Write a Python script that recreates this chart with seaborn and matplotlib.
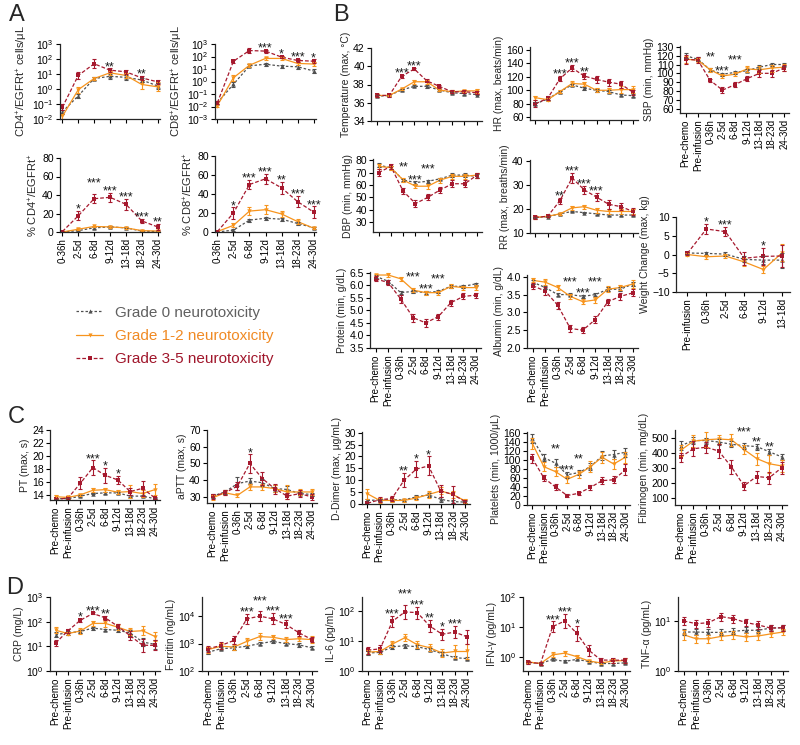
import numpy as np
import pandas as pd
import matplotlib
matplotlib.use('Agg')
import matplotlib.pyplot as plt
from matplotlib.lines import Line2D
from matplotlib.ticker import LogLocator, NullLocator, LogFormatterMathtext, FormatStrFormatter
import seaborn as sns

times = ['Pre-chemo', 'Pre-infusion', '0-36h', '2-5d', '6-8d', '9-12d', '13-18d', '18-23d', '24-30d']
times_car = times[2:]
times_wt = ['Pre-infusion', '0-36h', '2-5d', '6-8d', '9-12d', '13-18d']
groups = ['Grade 0 neurotoxicity', 'Grade 1-2 neurotoxicity', 'Grade 3-5 neurotoxicity']

# stars: (time point, label[, raised row])

# A - CAR T cells (counts: log axes, errors as fold)
cd4_g0 = [0.03, 0.35, 5, 7, 6, 4, 1.6]
cd4_g12 = [0.015, 0.9, 5, 12, 8, 2, 1.4]
cd4_g35 = [0.06, 8, 48, 18, 14, 5.5, 3]
cd4_e0 = [1.4, 1.3, 1.3, 1.5, 1.5, 1.4, 1.5]
cd4_e12 = [1.5, 1.6, 1.3, 1.4, 1.5, 2.0, 2.0]
cd4_e35 = [1.6, 1.6, 2.0, 1.3, 1.3, 1.3, 1.4]
cd4_stars = [('9-12d', '**'), ('18-23d', '**')]

cd8_g0 = [0.02, 0.6, 18, 24, 17, 15, 7]
cd8_g12 = [0.012, 2, 20, 70, 70, 28, 25]
cd8_g35 = [0.02, 42, 300, 270, 90, 48, 42]
cd8_e0 = [1.3, 1.6, 1.3, 1.3, 1.3, 1.4, 1.5]
cd8_e12 = [1.3, 1.8, 1.3, 1.4, 1.4, 1.4, 1.4]
cd8_e35 = [1.3, 1.3, 1.6, 1.3, 1.3, 1.3, 1.4]
cd8_stars = [('9-12d', '***'), ('13-18d', '*'), ('18-23d', '***'), ('24-30d', '*')]

pcd4_g0 = [0, 1.5, 4.5, 5.5, 4.5, 1, 0.5]
pcd4_g12 = [0, 3, 6, 5.5, 4.5, 1.5, 1]
pcd4_g35 = [0.5, 17.5, 36, 37.5, 30, 12, 5.5]
pcd4_e0 = [0.2, 0.5, 0.8, 0.8, 0.5, 0.3, 0.3]
pcd4_e12 = [0.3, 1, 1, 1, 0.8, 0.5, 0.5]
pcd4_e35 = [0.5, 5, 5, 5, 6, 2.5, 3]
pcd4_stars = [('2-5d', '*'), ('6-8d', '***', 1), ('9-12d', '***'), ('13-18d', '***'), ('18-23d', '***'), ('24-30d', '**')]

pcd8_g0 = [0, 2, 12.5, 14.5, 13.5, 9, 4.5]
pcd8_g12 = [0.5, 7, 22, 23.5, 19, 11, 4]
pcd8_g35 = [0.5, 20, 50, 56, 46.5, 32, 21]
pcd8_e0 = [0.3, 1, 1.5, 1.5, 1.5, 1.5, 1]
pcd8_e12 = [0.5, 2, 4, 5, 3, 3, 1]
pcd8_e35 = [0.5, 6, 5, 5, 6, 6, 6]
pcd8_stars = [('2-5d', '*'), ('6-8d', '***'), ('9-12d', '***'), ('13-18d', '**'), ('18-23d', '***'), ('24-30d', '***')]

# B - vital signs and labs
temp_g0 = [36.7, 36.8, 37.4, 37.8, 37.8, 37.4, 37.1, 37.0, 36.9]
temp_g12 = [36.8, 36.8, 37.5, 38.3, 38.3, 37.4, 37.2, 37.3, 37.3]
temp_g35 = [36.8, 36.8, 38.9, 39.7, 38.4, 37.8, 37.2, 37.2, 37.1]
temp_e0 = [0.1, 0.1, 0.1, 0.1, 0.15, 0.1, 0.1, 0.1, 0.1]
temp_e12 = [0.15, 0.1, 0.1, 0.2, 0.2, 0.15, 0.15, 0.15, 0.2]
temp_e35 = [0.15, 0.15, 0.15, 0.1, 0.15, 0.2, 0.15, 0.15, 0.15]
temp_stars = [('0-36h', '***'), ('2-5d', '***')]

hr_g0 = [80, 87, 98, 108, 103, 100, 98, 93, 92]
hr_g12 = [89, 86, 98, 110, 109, 100, 100, 101, 101]
hr_g35 = [80, 88, 117, 133, 121, 116, 112, 109, 97]
hr_e0 = [2, 2, 1.5, 2, 2, 2, 2, 2, 2]
hr_e12 = [3, 2, 2, 3, 3, 3, 4, 5, 5]
hr_e35 = [5, 3, 4, 4, 4, 5, 5, 5, 4]
hr_stars = [('0-36h', '***'), ('2-5d', '***'), ('6-8d', '**')]

sbp_g0 = [120, 116, 104, 99, 101, 103, 107, 110, 110]
sbp_g12 = [116, 115, 104, 97, 99, 105, 104, 106, 107]
sbp_g35 = [116, 115, 92, 81, 87, 94, 100, 100, 106]
sbp_e0 = [3, 2, 1.5, 1.5, 1.5, 1.5, 2, 2, 2]
sbp_e12 = [4, 2, 2, 2, 2, 3, 4, 4, 4]
sbp_e35 = [5, 3, 2, 3, 3, 3, 4, 4, 3]
sbp_stars = [('0-36h', '**', 1), ('2-5d', '***'), ('6-8d', '***', 1)]

dbp_g0 = [76, 74, 64, 62, 63, 65, 68, 68, 67]
dbp_g12 = [75, 74, 64, 59, 59, 64, 67, 67, 68]
dbp_g35 = [70, 75, 55, 45, 50, 56, 61, 61, 68]
dbp_e0 = [1.5, 1, 1, 1, 1, 1, 1.5, 1.5, 1.5]
dbp_e12 = [2, 1.5, 1.5, 1.5, 2, 2, 2, 2, 2]
dbp_e35 = [3, 2, 2.5, 2.5, 2.5, 2.5, 3, 3, 2]
dbp_stars = [('0-36h', '**', 1), ('2-5d', '***'), ('6-8d', '***', 1)]

rr_g0 = [16.5, 16.8, 18, 19, 18.5, 18, 17.5, 17.5, 17.5]
rr_g12 = [16.5, 17, 18, 20.5, 21, 19.5, 19, 19, 19]
rr_g35 = [16.5, 17, 23.5, 33, 28, 25, 22, 21, 19]
rr_e0 = [0.3, 0.3, 0.3, 0.3, 0.3, 0.3, 0.3, 0.3, 0.3]
rr_e12 = [0.5, 0.5, 0.5, 0.8, 0.8, 1, 1.2, 1.2, 1.2]
rr_e35 = [0.5, 0.5, 1.2, 2, 1.8, 1.8, 1.8, 1.5, 1.5]
rr_stars = [('0-36h', '**'), ('2-5d', '***'), ('6-8d', '***'), ('9-12d', '***')]

wt_g0 = [0.4, 0.3, 0.1, -1.3, -1.5, -1.5]
wt_g12 = [0, -0.6, -0.4, -2, -4, 0.5]
wt_g35 = [0.3, 6.8, 6.1, -1, -0.5, -0.4]
wt_e0 = [0.3, 0.4, 0.5, 0.8, 1, 2]
wt_e12 = [0.4, 0.6, 0.6, 1, 1, 2.3]
wt_e35 = [0.5, 1.3, 1.2, 1.8, 2.2, 3]
wt_stars = [('0-36h', '*'), ('2-5d', '***'), ('9-12d', '*')]

prot_g0 = [6.35, 6.15, 5.7, 5.75, 5.7, 5.75, 5.95, 5.95, 6.05]
prot_g12 = [6.4, 6.4, 6.25, 5.8, 5.7, 5.7, 5.95, 5.9, 5.9]
prot_g35 = [6.25, 6.1, 5.45, 4.7, 4.5, 4.75, 5.3, 5.55, 5.6]
prot_e0 = [0.05, 0.05, 0.05, 0.05, 0.05, 0.05, 0.05, 0.05, 0.05]
prot_e12 = [0.05, 0.07, 0.08, 0.08, 0.08, 0.08, 0.08, 0.08, 0.1]
prot_e35 = [0.1, 0.1, 0.15, 0.15, 0.15, 0.12, 0.12, 0.12, 0.1]
prot_stars = [('2-5d', '***', 1), ('6-8d', '***'), ('9-12d', '***', 1)]

alb_g0 = [3.85, 3.7, 3.5, 3.5, 3.45, 3.5, 3.65, 3.65, 3.8]
alb_g12 = [3.9, 3.85, 3.7, 3.45, 3.3, 3.35, 3.65, 3.7, 3.8]
alb_g35 = [3.75, 3.6, 3.2, 2.55, 2.5, 2.8, 3.3, 3.45, 3.55]
alb_e0 = [0.05, 0.05, 0.05, 0.04, 0.05, 0.05, 0.05, 0.05, 0.05]
alb_e12 = [0.06, 0.08, 0.08, 0.07, 0.07, 0.08, 0.08, 0.08, 0.12]
alb_e35 = [0.08, 0.1, 0.1, 0.1, 0.08, 0.1, 0.08, 0.1, 0.1]
alb_stars = [('2-5d', '***', 1), ('6-8d', '***'), ('9-12d', '***', 1)]

# C - coagulation
pt_g0 = [13.4, 13.4, 13.8, 14.2, 14.3, 14.3, 13.8, 13.8, 13.4]
pt_g12 = [13.7, 13.6, 14.0, 14.7, 14.8, 14.4, 14.5, 14.2, 14.8]
pt_g35 = [13.3, 13.5, 15.8, 18.2, 17.0, 16.3, 14.5, 15.0, 13.5]
pt_e0 = [0.1, 0.1, 0.1, 0.15, 0.15, 0.2, 0.15, 0.15, 0.1]
pt_e12 = [0.2, 0.2, 0.2, 0.3, 0.3, 0.3, 1.0, 0.6, 0.9]
pt_e35 = [0.2, 0.2, 0.9, 1.1, 1.1, 0.6, 0.5, 1.2, 0.2]
pt_stars = [('2-5d', '***'), ('6-8d', '*'), ('9-12d', '*')]

aptt_g0 = [30.5, 33, 38, 39.5, 38.5, 35, 34.5, 32, 31.5]
aptt_g12 = [29.5, 32.5, 31, 36, 36, 35, 33, 33, 33]
aptt_g35 = [30.5, 32.5, 36.5, 50, 41, 35, 30.5, 32, 30]
aptt_e0 = [1, 1, 4, 2, 2, 2, 2, 1, 1]
aptt_e12 = [1.5, 1.5, 1, 2, 2, 2, 4, 2, 2]
aptt_e35 = [1.5, 1.5, 2.5, 5.5, 4, 3, 2, 2, 2]
aptt_stars = [('2-5d', '*')]

ddim_g0 = [1.5, 1.7, 1.8, 1.7, 3, 3.8, 2, 1, 0.8]
ddim_g12 = [4.3, 1.5, 1.5, 1.5, 2.5, 4, 5.5, 4, 1.3]
ddim_g35 = [0.3, 1.8, 2.3, 10, 14.7, 16, 5.5, 4, 1]
ddim_e0 = [0.5, 0.5, 0.5, 0.5, 0.8, 1, 1, 0.5, 0.5]
ddim_e12 = [2, 1, 0.8, 0.8, 1, 1.5, 1.5, 1.5, 0.8]
ddim_e35 = [0.5, 1, 1, 3, 3.5, 4, 2.5, 3.5, 0.8]
ddim_stars = [('2-5d', '**'), ('6-8d', '*'), ('9-12d', '*')]

plt_g0 = [148, 105, 93, 67, 72, 85, 109, 112, 117]
plt_g12 = [137, 85, 74, 57, 68, 85, 106, 91, 106]
plt_g35 = [104, 60, 40, 21, 26, 39, 54, 56, 78]
plt_e0 = [10, 8, 8, 6, 6, 8, 10, 10, 10]
plt_e12 = [12, 10, 10, 8, 8, 12, 12, 12, 12]
plt_e35 = [10, 7, 6, 3, 3, 6, 8, 8, 12]
plt_stars = [('0-36h', '**', 1), ('2-5d', '***'), ('6-8d', '**', 1)]

fib_g0 = [445, 480, 480, 470, 455, 445, 440, 405, 370]
fib_g12 = [415, 475, 485, 490, 485, 420, 360, 325, 310]
fib_g35 = [370, 425, 435, 410, 305, 178, 240, 232, 300]
fib_e0 = [30, 25, 20, 20, 20, 20, 20, 20, 20]
fib_e12 = [35, 40, 50, 30, 40, 30, 40, 60, 40]
fib_e35 = [30, 50, 35, 45, 45, 25, 40, 40, 40]
fib_stars = [('9-12d', '***', 1), ('13-18d', '**'), ('18-23d', '**')]

# D - cytokines (log axes, errors as fold)
crp_g0 = [30, 35, 40, 55, 48, 45, 35, 15, 12]
crp_g12 = [45, 33, 42, 85, 85, 60, 40, 43, 25]
crp_g35 = [13.5, 43, 115, 215, 143, 65, 27, 11, 11]
crp_e0 = [1.3, 1.2, 1.2, 1.15, 1.1, 1.15, 1.3, 1.4, 1.5]
crp_e12 = [1.3, 1.2, 1.3, 1.3, 1.4, 1.3, 1.4, 1.5, 1.5]
crp_e35 = [1.3, 1.2, 1.15, 1.1, 1.2, 1.2, 1.5, 1.8, 1.6]
crp_stars = [('0-36h', '*'), ('2-5d', '***'), ('6-8d', '**')]

fer_g0 = [480, 650, 700, 800, 1000, 1200, 1000, 900, 700]
fer_g12 = [600, 800, 750, 1200, 1800, 1700, 1400, 1500, 1400]
fer_g35 = [650, 850, 1300, 8000, 10000, 8000, 5000, 2500, 1400]
fer_e0 = [1.15, 1.15, 1.2, 1.15, 1.15, 1.15, 1.15, 1.15, 1.15]
fer_e12 = [1.3, 1.3, 1.3, 1.3, 1.3, 1.2, 1.2, 1.2, 1.3]
fer_e35 = [1.3, 1.3, 1.4, 1.5, 1.5, 1.6, 1.4, 1.3, 1.2]
fer_stars = [('2-5d', '***'), ('6-8d', '***', 1), ('9-12d', '***'), ('13-18d', '***')]

il6_g0 = [4, 4.2, 6.5, 7, 6.5, 5.2, 3.8, 2.8, 2.6]
il6_g12 = [4.3, 4.5, 8, 13, 7.6, 6, 4, 4.5, 4.5]
il6_g35 = [5, 5.5, 46, 95, 90, 32, 17, 20, 14]
il6_e0 = [1.15, 1.15, 1.15, 1.15, 1.15, 1.15, 1.15, 1.15, 1.15]
il6_e12 = [1.2, 1.2, 1.25, 1.3, 1.3, 1.3, 1.4, 1.6, 1.8]
il6_e35 = [1.3, 1.3, 1.5, 1.7, 1.6, 1.6, 1.5, 1.6, 1.7]
il6_stars = [('0-36h', '***'), ('2-5d', '***', 1), ('6-8d', '***'), ('9-12d', '**'), ('13-18d', '*'), ('18-23d', '***')]

ifn_g0 = [0.68, 0.62, 0.85, 0.73, 0.85, 0.72, 0.62, 0.62, 0.65]
ifn_g12 = [0.7, 0.62, 1.2, 1.37, 1.05, 0.75, 0.65, 0.75, 0.78]
ifn_g35 = [0.68, 0.62, 10.4, 16, 6.2, 1.7, 0.81, 0.8, 0.8]
ifn_e0 = [1.08, 1.08, 1.08, 1.08, 1.08, 1.08, 1.08, 1.08, 1.08]
ifn_e12 = [1.1, 1.1, 1.2, 1.2, 1.15, 1.1, 1.1, 1.2, 1.2]
ifn_e35 = [1.1, 1.1, 1.5, 1.7, 1.8, 1.5, 1.2, 1.2, 1.2]
ifn_stars = [('0-36h', '***'), ('2-5d', '***'), ('6-8d', '*')]

tnf_g0 = [6.0, 6.0, 5.9, 5.9, 6.2, 6.5, 6.5, 7.2, 7.3]
tnf_g12 = [5.3, 4.4, 4.4, 4.9, 5.2, 4.8, 5.0, 5.5, 6.0]
tnf_g35 = [10, 8.8, 9.2, 12.2, 11.1, 9.3, 8.3, 7.2, 7.3]
tnf_e0 = [1.15, 1.15, 1.15, 1.15, 1.15, 1.15, 1.15, 1.15, 1.15]
tnf_e12 = [1.25, 1.2, 1.2, 1.2, 1.2, 1.2, 1.2, 1.15, 1.15]
tnf_e35 = [1.2, 1.2, 1.2, 1.2, 1.2, 1.2, 1.2, 1.15, 1.15]
tnf_stars = []

colors = {groups[0]: '#505050', groups[1]: '#F7941D', groups[2]: '#A6192E'}
text_colors = ['#606060', '#F08A24', '#A0162B']
dashes = {groups[0]: (2, 1.6), groups[1]: '', groups[2]: (3, 1.6)}
markers = {groups[0]: '^', groups[1]: 'v', groups[2]: 's'}

sns.set_style('ticks')
plt.rcParams['font.family'] = ['Liberation Sans', 'DejaVu Sans']
plt.rcParams['mathtext.fontset'] = 'custom'
plt.rcParams['mathtext.rm'] = 'Liberation Sans'
plt.rcParams['mathtext.it'] = 'Liberation Sans:italic'
plt.rcParams['mathtext.bf'] = 'Liberation Sans:bold'
plt.rcParams['axes.linewidth'] = 0.9

W, H = 800, 745
fig = plt.figure(figsize=(W / 100, H / 100), dpi=100)


def new_ax(box):
    l, t, r, b = box
    return fig.add_axes([l / W, 1 - b / H, (r - l) / W, (b - t) / H])


def draw(box, cats, means, errs, stars, ylabel, ylim, log=False, yticks=None,
         fmt=None, xlabels=True, xlim=None, lab_size=7.5):
    ax = new_ax(box)
    rows = []
    for grp, vals in zip(groups, means):
        for i, (c, v) in enumerate(zip(cats, vals)):
            rows.append({'time': c, 'pos': i, 'value': v, 'group': grp})
    df = pd.DataFrame(rows)
    sns.lineplot(data=df, x='pos', y='value', hue='group', style='group',
                 hue_order=groups, style_order=groups, palette=colors,
                 dashes=dashes, markers=markers, markersize=3.2,
                 markeredgewidth=0, linewidth=0.9, errorbar=None,
                 sort=False, legend=False, ax=ax)
    tops = []
    for grp, vals, err in zip(groups, means, errs):
        v = np.array(vals, float)
        e = np.array(err, float)
        if log:
            yerr = [v - v / e, v * e - v]
            tops.append(v * e)
        else:
            yerr = e
            tops.append(v + e)
        ax.errorbar(np.arange(len(cats)), v, yerr=yerr, fmt='none',
                    ecolor=colors[grp], elinewidth=0.8, capsize=1.5,
                    capthick=0.8)
    top = np.max(tops, axis=0)
    for st in stars:
        i = cats.index(st[0])
        lift = 6.5 if len(st) > 2 else 0
        ax.annotate(st[1], (i, top[i]), xytext=(0, -1.2 + lift), textcoords='offset points',
                    ha='center', va='baseline', fontsize=9, color='#1a1a1a',
                    annotation_clip=False)
    if log:
        ax.set_yscale('log')
        ax.yaxis.set_major_locator(LogLocator(base=10, numticks=12))
        ax.yaxis.set_minor_locator(NullLocator())
        ax.yaxis.set_major_formatter(LogFormatterMathtext())
    elif yticks is not None:
        ax.set_yticks(yticks)
        if fmt:
            ax.yaxis.set_major_formatter(FormatStrFormatter(fmt))
    ax.set_ylim(*ylim)
    n = len(cats)
    ax.set_xlim(*(xlim if xlim else (-0.45, n - 0.6)))
    ax.set_xticks(range(n))
    if xlabels:
        ax.set_xticklabels(cats, rotation=90)
    else:
        ax.set_xticklabels([])
    ax.set_xlabel('')
    ax.set_ylabel(ylabel, fontsize=lab_size, labelpad=1.5)
    ax.tick_params(direction='out', length=3, width=0.8, labelsize=7, pad=1.5,
                   colors='black')
    ax.tick_params(axis='y', labelsize=7.5)
    sns.despine(ax=ax)
    return ax


# Panel A
draw((60, 44, 160, 119), times_car, (cd4_g0, cd4_g12, cd4_g35), (cd4_e0, cd4_e12, cd4_e35),
     cd4_stars, 'CD4$^{+}$/EGFRt$^{+}$ cells/\u03bcL', (0.01, 1000), log=True,
     xlabels=False, xlim=(-0.15, 6.15), lab_size=8)
draw((215, 44, 316, 119), times_car, (cd8_g0, cd8_g12, cd8_g35), (cd8_e0, cd8_e12, cd8_e35),
     cd8_stars, 'CD8$^{+}$/EGFRt$^{+}$ cells/\u03bcL', (0.001, 1000), log=True,
     xlabels=False, xlim=(-0.15, 6.15), lab_size=8)
draw((60, 158, 160, 232), times_car, (pcd4_g0, pcd4_g12, pcd4_g35), (pcd4_e0, pcd4_e12, pcd4_e35),
     pcd4_stars, '% CD4$^{+}$/EGFRt$^{+}$', (0, 80), yticks=range(0, 81, 20),
     xlim=(-0.15, 6.15), lab_size=8)
draw((215, 156, 316, 232), times_car, (pcd8_g0, pcd8_g12, pcd8_g35), (pcd8_e0, pcd8_e12, pcd8_e35),
     pcd8_stars, '% CD8$^{+}$/EGFRt$^{+}$', (0, 80), yticks=range(0, 81, 20),
     xlim=(-0.15, 6.15), lab_size=8)

# Panel B
draw((371, 48, 482, 121), times, (temp_g0, temp_g12, temp_g35), (temp_e0, temp_e12, temp_e35),
     temp_stars, 'Temperature (max, \u00b0C)', (34, 42), yticks=range(34, 43, 2), xlabels=False)
draw((530, 47, 638, 120), times, (hr_g0, hr_g12, hr_g35), (hr_e0, hr_e12, hr_e35),
     hr_stars, 'HR (max, beats/min)', (56, 164), yticks=range(60, 161, 20), xlabels=False)
draw((680, 46, 789, 113), times, (sbp_g0, sbp_g12, sbp_g35), (sbp_e0, sbp_e12, sbp_e35),
     sbp_stars, 'SBP (min, mmHg)', (55, 131), yticks=range(60, 131, 10))
draw((373, 159, 482, 232), times, (dbp_g0, dbp_g12, dbp_g35), (dbp_e0, dbp_e12, dbp_e35),
     dbp_stars, 'DBP (min, mmHg)', (22, 81), yticks=range(30, 81, 10), xlabels=False)
draw((530, 160, 638, 233), times, (rr_g0, rr_g12, rr_g35), (rr_e0, rr_e12, rr_e35),
     rr_stars, 'RR (max, breaths/min)', (10, 40.5), yticks=range(10, 41, 10), xlabels=False)
draw((676, 217, 790, 292), times_wt, (wt_g0, wt_g12, wt_g35), (wt_e0, wt_e12, wt_e35),
     wt_stars, 'Weight Change (max, kg)', (-10, 10), yticks=range(-10, 11, 5),
     xlim=(-0.6, 5.4))
draw((370, 272, 481, 348), times, (prot_g0, prot_g12, prot_g35), (prot_e0, prot_e12, prot_e35),
     prot_stars, 'Protein (min, g/dL)', (3.5, 6.52), yticks=np.arange(3.5, 6.51, 0.5), fmt='%.1f')
draw((527, 275, 638, 348), times, (alb_g0, alb_g12, alb_g35), (alb_e0, alb_e12, alb_e35),
     alb_stars, 'Albumin (min, g/dL)', (2.0, 4.05), yticks=np.arange(2.0, 4.01, 0.5), fmt='%.1f')

# Panel C
draw((50, 430, 160, 500), times, (pt_g0, pt_g12, pt_g35), (pt_e0, pt_e12, pt_e35),
     pt_stars, 'PT (max, s)', (13.2, 24), yticks=range(14, 25, 2))
draw((207, 430, 317, 503), times, (aptt_g0, aptt_g12, aptt_g35), (aptt_e0, aptt_e12, aptt_e35),
     aptt_stars, 'aPTT (max, s)', (26.4, 70), yticks=range(30, 71, 10))
draw((362, 432, 470, 504), times, (ddim_g0, ddim_g12, ddim_g35), (ddim_e0, ddim_e12, ddim_e35),
     ddim_stars, 'D-Dimer (max, \u03bcg/mL)', (0, 30.3), yticks=range(0, 31, 5))
draw((527, 432, 630, 505), times, (plt_g0, plt_g12, plt_g35), (plt_e0, plt_e12, plt_e35),
     plt_stars, 'Platelets (min, 1000/\u03bcL)', (0, 162), yticks=range(0, 161, 20))
draw((675, 430, 787, 505), times, (fib_g0, fib_g12, fib_g35), (fib_e0, fib_e12, fib_e35),
     fib_stars, 'Fibrinogen (min, mg/dL)', (50, 550), yticks=range(100, 501, 100))

# Panel D
draw((50, 597, 160, 671), times, (crp_g0, crp_g12, crp_g35), (crp_e0, crp_e12, crp_e35),
     crp_stars, 'CRP (mg/L)', (1, 1000), log=True)
draw((202, 597, 317, 671), times, (fer_g0, fer_g12, fer_g35), (fer_e0, fer_e12, fer_e35),
     fer_stars, 'Ferritin (ng/mL)', (100, 5e4), log=True)
draw((362, 597, 472, 671), times, (il6_g0, il6_g12, il6_g35), (il6_e0, il6_e12, il6_e35),
     il6_stars, 'IL-6 (pg/mL)', (1, 300), log=True)
draw((523, 597, 630, 671), times, (ifn_g0, ifn_g12, ifn_g35), (ifn_e0, ifn_e12, ifn_e35),
     ifn_stars, 'IFN-\u03b3 (pg/mL)', (0.35, 100), log=True)
draw((678, 597, 788, 671), times, (tnf_g0, tnf_g12, tnf_g35), (tnf_e0, tnf_e12, tnf_e35),
     tnf_stars, 'TNF-\u03b1 (pg/mL)', (1, 30), log=True)

# legend
handles = [Line2D([], [], color=colors[g], marker=markers[g], markersize=3,
                  markeredgewidth=0, linewidth=0.9,
                  dashes=dashes[g] if dashes[g] else (None, None))
           for g in groups]
fig.legend(handles, groups, loc='upper left', bbox_to_anchor=(62 / W, 1 - 292 / H),
           frameon=False, fontsize=11, handlelength=1.8, handletextpad=0.8,
           labelspacing=0.6, labelcolor=text_colors)

for letter, x, y in [('A', 9, 4), ('B', 333, 4), ('C', 8, 406), ('D', 6, 577)]:
    fig.text(x / W, 1 - y / H, letter, fontsize=17, va='top', ha='left')

fig.savefig('out.png', dpi=100)
